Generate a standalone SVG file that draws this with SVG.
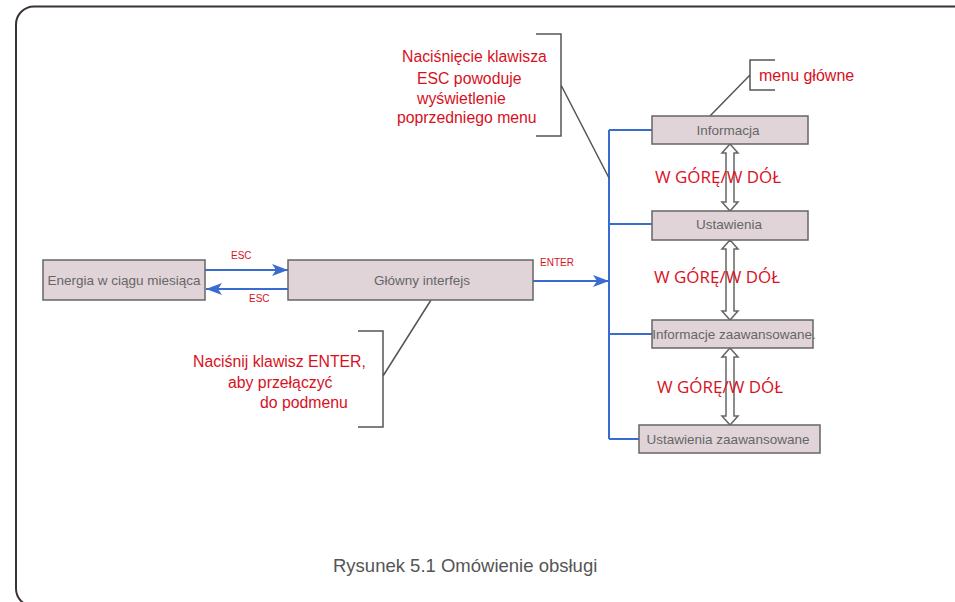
<svg xmlns="http://www.w3.org/2000/svg" width="955" height="602" viewBox="0 0 955 602">
<style>
.box{fill:#e1d4d9;stroke:#666;stroke-width:1.5}
.nt{font-family:"Liberation Sans",Arial,sans-serif;font-size:13.5px;fill:#666;text-anchor:middle}
.red{font-family:"Liberation Sans",Arial,sans-serif;fill:#d7111e}
.ud{font-family:"Open Sans","Noto Sans",sans-serif;font-size:17px;fill:#d7111e}
.blue{stroke:#3a6bd0;stroke-width:2;fill:none}
.lead{stroke:#555;stroke-width:1.5;fill:none}
.dbl{fill:#fff;stroke:#666;stroke-width:1.5}
</style>
<defs>
<marker id="ah" viewBox="0 0 16 12" refX="16" refY="6" markerWidth="16" markerHeight="12" markerUnits="userSpaceOnUse" orient="auto">
<path d="M0,0 L16,6 L0,12 L4,6 Z" fill="#3a6bd0"/>
</marker>
</defs>
<rect x="16" y="6.5" width="960" height="600" rx="18" fill="#fff" stroke="#3a3330" stroke-width="2"/>
<g id="connectors">
<line class="blue" x1="205" y1="270" x2="288" y2="270" marker-end="url(#ah)"/>
<line class="blue" x1="288" y1="289" x2="206" y2="289" marker-end="url(#ah)"/>
<line class="blue" x1="533" y1="281" x2="609" y2="281" marker-end="url(#ah)"/>
<path class="blue" d="M609,130 L609,439"/>
<path class="blue" d="M609,130 H652 M609,224 H652 M609,334 H652 M609,439 H639"/>
<path class="dbl" d="M730,144 L738,153 L734,153 L734,202 L738,202 L730,211 L722,202 L726,202 L726,153 L722,153 Z"/>
<path class="dbl" d="M730,240 L738,249 L734,249 L734,311 L738,311 L730,320 L722,311 L726,311 L726,249 L722,249 Z"/>
<path class="dbl" d="M730,348 L738,357 L734,357 L734,416 L738,416 L730,425 L722,416 L726,416 L726,357 L722,357 Z"/>
<path class="lead" d="M536,34 H561 V136 H536 M561,85 L609,178"/>
<path class="lead" d="M358,331 H383 V427 H358 M383,376 L431,300"/>
<path class="lead" d="M775,60 H750 V90 H775 M750,75 L710,116"/>
</g>
<g id="energia"><rect class="box" x="43" y="260" width="162" height="40"/><text class="nt" x="124" y="285">Energia w ciągu miesiąca</text></g>
<g id="glowny"><rect class="box" x="288" y="260" width="245" height="40"/><text class="nt" x="422" y="285">Główny interfejs</text></g>
<g id="informacja"><rect class="box" x="652" y="116" width="156" height="28"/><text class="nt" x="728" y="135">Informacja</text></g>
<g id="ustawienia"><rect class="box" x="652" y="211" width="156" height="29"/><text class="nt" x="729" y="229">Ustawienia</text></g>
<g id="info-zaaw"><rect class="box" x="652" y="320" width="161" height="28"/><text class="nt" x="734" y="339">Informacje zaawansowane.</text></g>
<g id="ust-zaaw"><rect class="box" x="639" y="425" width="181" height="28"/><text class="nt" x="728" y="444">Ustawienia zaawansowane</text></g>
<g id="labels">
<text class="red" x="231" y="259" font-size="10">ESC</text>
<text class="red" x="249" y="302" font-size="10">ESC</text>
<text class="red" x="540" y="266" font-size="10">ENTER</text>
<text class="ud" x="655" y="183" textLength="126" lengthAdjust="spacingAndGlyphs">W GÓRĘ/W DÓŁ</text>
<text class="ud" x="654" y="283" textLength="126" lengthAdjust="spacingAndGlyphs">W GÓRĘ/W DÓŁ</text>
<text class="ud" x="657" y="393" textLength="126" lengthAdjust="spacingAndGlyphs">W GÓRĘ/W DÓŁ</text>
</g>
<g id="callout-esc" class="red" font-size="15.8">
<text x="402" y="62">Naciśnięcie klawisza</text>
<text x="417" y="84">ESC powoduje</text>
<text x="417" y="104">wyświetlenie</text>
<text x="397" y="123">poprzedniego menu</text>
</g>
<g id="callout-enter" class="red" font-size="15.8">
<text x="193" y="367">Naciśnij klawisz ENTER,</text>
<text x="228" y="388">aby przełączyć</text>
<text x="260" y="408">do podmenu</text>
</g>
<g id="callout-menu" class="red" font-size="16"><text x="759" y="81">menu główne</text></g>
<text x="333" y="572" font-family="Liberation Sans,Arial,sans-serif" font-size="18.5" fill="#555">Rysunek 5.1 Omówienie obsługi</text>
</svg>
